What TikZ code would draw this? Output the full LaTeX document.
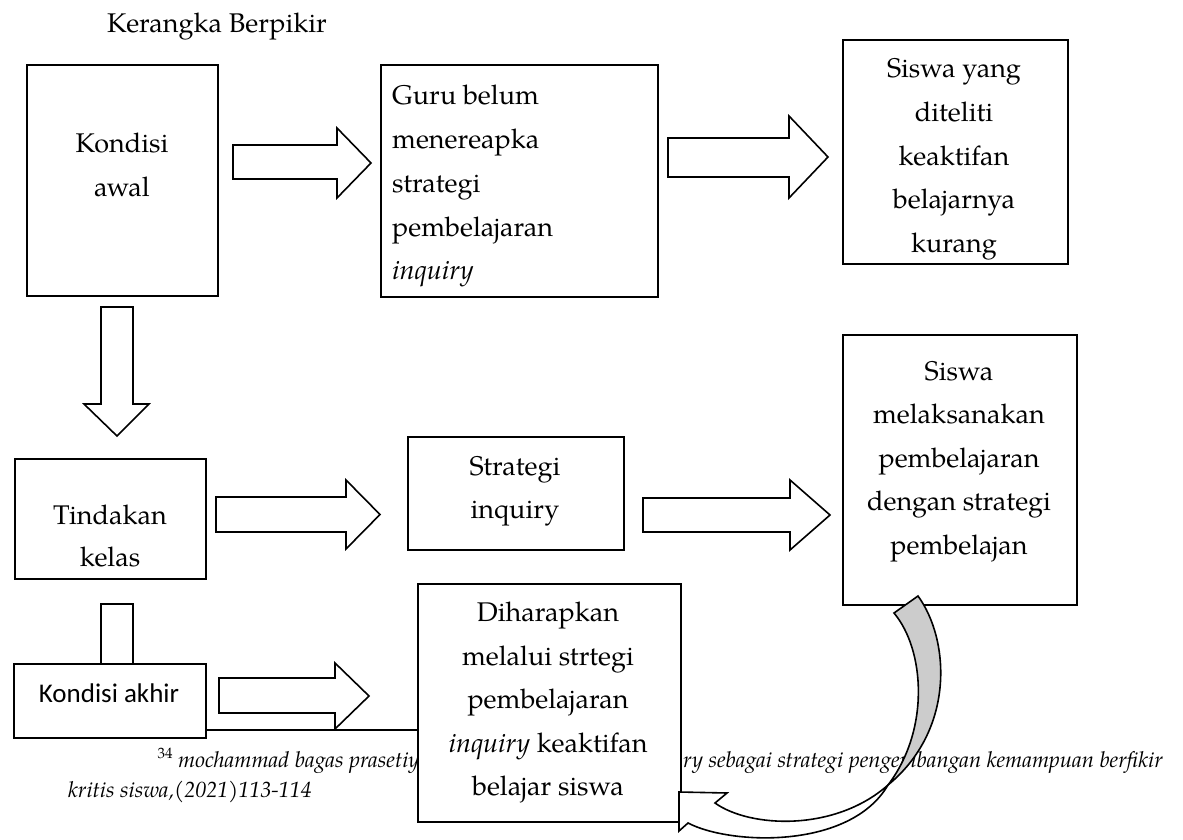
\documentclass[tikz,border=0pt]{standalone}
\usepackage{fontspec}
\setmainfont{TeX Gyre Pagella}
\newfontfamily\carlito{Carlito}
\definecolor{bandgray}{RGB}{204,204,204}
\newcommand{\rblock}[7]{% x0, xhead, xtip, shaft top, shaft bottom, head top, head bottom
  \draw[barrow] (#1,#4) -- (#2,#4) -- (#2,#6) -- (#3,{(#6+#7)/2}) -- (#2,#7) -- (#2,#5) -- (#1,#5) -- cycle;}
\begin{document}
\begin{tikzpicture}[x=1pt,y=-1pt,
  box/.style={draw, line width=1.9pt, fill=white, inner sep=0pt, anchor=north west},
  barrow/.style={draw, line width=1.6pt, fill=white, line join=miter},
  ln/.style={inner sep=0pt, anchor=base, font=\fontsize{27}{40}\selectfont},
  lnw/.style={ln, anchor=base west},
  fn/.style={inner sep=0pt, font=\fontsize{22}{26}\selectfont\itshape}]
\useasboundingbox (0,0) rectangle (1183,840);

% title
\node[ln] (title) at (217,33) {Kerangka Berpikir};

% box 1
\node[box, minimum width=191pt, minimum height=231pt] (b1) at (26,64) {};
\node[ln] (b1a) at (122,153) {Kondisi};
\node[ln] (b1b) at (122,196) {awal};

% box 2
\node[box, minimum width=277pt, minimum height=232pt] (b2) at (380,64) {};
\node[lnw] (b2a) at (392,105) {Guru belum};
\node[lnw] (b2b) at (392,149) {menereapka};
\node[lnw] (b2c) at (392,192) {strategi};
\node[lnw] (b2d) at (392,236) {pembelajaran};
\node[lnw] (b2e) at (392,279) {\itshape inquiry};

% box 3
\node[box, minimum width=225pt, minimum height=224pt] (b3) at (842,39) {};
\node[ln] (b3a) at (954,78) {Siswa yang};
\node[ln] (b3b) at (954,122) {diteliti};
\node[ln] (b3c) at (954,165) {keaktifan};
\node[ln] (b3d) at (954,208) {belajarnya};
\node[ln] (b3e) at (954,252) {kurang};

% arrows top row
\rblock{233}{337}{371}{145}{179}{128}{198}
\rblock{668}{789}{828}{138}{177}{116}{198}

% down arrow
\draw[barrow] (101,307) -- (133,307) -- (133,404) -- (149,404) -- (117,436) -- (84,404) -- (101,404) -- cycle;

% box 4
\node[box, minimum width=191pt, minimum height=120pt] (b4) at (14,458) {};
\node[ln] (b4a) at (110,524) {Tindakan};
\node[ln] (b4b) at (110,566) {kelas};

% box 5 strategi
\node[box, minimum width=216pt, minimum height=113pt] (b5) at (407,436) {};
\node[ln] (b5a) at (515,475) {Strategi};
\node[ln] (b5b) at (515,518) {inquiry};

% middle arrows
\rblock{216}{346}{380}{497}{532}{480}{549}
\rblock{643}{790}{830}{498}{532}{480}{550}

% box siswa melaksanakan
\node[box, minimum width=234pt, minimum height=270pt] (b7) at (842,334) {};
\node[ln] (b7a) at (959,380) {Siswa};
\node[ln] (b7b) at (959,423) {melaksanakan};
\node[ln] (b7c) at (959,467) {pembelajaran};
\node[ln] (b7d) at (959,510) {dengan strategi};
\node[ln] (b7e) at (959,554) {pembelajan};

% connector stub and Kondisi akhir
\draw[line width=1.9pt, fill=white] (101,604) rectangle (133,664);
\node[box, minimum width=192pt, minimum height=74pt] (ka) at (13,663) {};
\node[inner sep=0pt, anchor=base, font=\fontsize{27}{32}\selectfont\carlito] (kat) at (109,702) {Kondisi akhir};

% separator line
\coordinate (s0) at (205,730);
\coordinate (s1) at (417,730);
\draw[line width=1.4pt] (s0) -- (s1);

\rblock{219}{335}{369}{678}{713}{663}{729}

% footnote
\node[inner sep=0pt, anchor=base, font=\fontsize{15}{18}\selectfont] (fnm) at (165,758) {34};
\begin{scope}
  \clip (150,740) rectangle (417,780);
  \node[fn, anchor=base west] (fn1a) at (178,767) {mochammad bagas prasetiyo};
\end{scope}
\node[fn, anchor=base west] (fn1b) at (683,767) {ry sebagai strategi pengembangan kemampuan berfikir};
\node[fn, anchor=base west] (fn2) at (68,797) {kritis siswa,(2021)113-114};

% box 6
\node[box, minimum width=263pt, minimum height=238pt] (b6) at (417,583) {};
\node[ln] (b6a) at (548,621) {Diharapkan};
\node[ln] (b6b) at (548,665) {melalui strtegi};
\node[ln] (b6c) at (548,708) {pembelajaran};
\node[ln] (b6d) at (548,752) {\textit{inquiry} keaktifan};
\node[ln] (b6e) at (548,795) {belajar siswa};

% curved arrow: front (white) band with head
\coordinate (T) at (888,785);
\draw[line width=1.6pt, fill=white, line join=miter]
  (679,792) -- (727,793) -- (715,803)
  .. controls (750,828) and (835,832) .. (T)
  .. controls (850,850) and (730,845) .. (688,823)
  -- (679,831) -- cycle;
% back (gray) part
\draw[line width=1.6pt, fill=bandgray, line join=miter]
  (894,613) -- (918,596)
  .. controls (950,640) and (955,730) .. (T)
  .. controls (930,730) and (925,650) .. (894,613) -- cycle;
\end{tikzpicture}
\end{document}
